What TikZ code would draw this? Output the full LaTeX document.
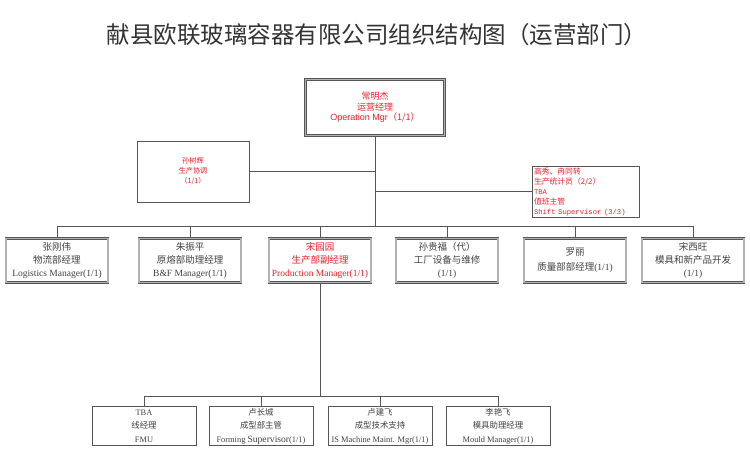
\documentclass[tikz,border=0pt]{standalone}
\usepackage{fontspec}
\setmainfont{Liberation Serif}
\newfontfamily\cjk{Noto Sans CJK SC}
\newfontfamily\latinsans{Liberation Sans}
\newfontfamily\latinmono{Liberation Mono}
\definecolor{orgred}{RGB}{232,32,42}
\definecolor{orgtext}{RGB}{65,65,65}
\definecolor{orgline}{RGB}{85,85,85}
\tikzset{
  deptbox/.style={draw=orgline, line width=0.6pt, double=black!30, double distance=1.1pt,
    minimum width=102pt, minimum height=44pt, inner sep=0pt, align=center,
    text=orgtext, font=\fontsize{9.5}{13}\selectfont},
  unitbox/.style={draw=orgline, line width=0.8pt, minimum width=104pt, minimum height=39pt,
    inner sep=0pt, align=center, text=orgtext, font=\fontsize{8.4}{13.5}\selectfont},
  link/.style={draw=orgline, line width=0.9pt},
}
\begin{document}
\begin{tikzpicture}[x=1pt,y=-1pt]
\useasboundingbox (0,0) rectangle (750,464);
\node[text=black!80, font=\cjk\fontsize{23.5}{25}\selectfont] (title) at (377,35) {献县欧联玻璃容器有限公司组织结构图（运营部门）};
% operation manager and staff
\node[deptbox, minimum width=139pt, minimum height=56pt, text=orgred, font=\fontsize{9}{10.5}\selectfont] (mgr) at (375,107.5)
  {{\cjk 常明杰}\\{\cjk 运营经理}\\{\latinsans Operation Mgr}{\cjk （1/1）}};
\node[unitbox, minimum width=112pt, minimum height=61pt, text=orgred, font=\cjk\fontsize{7.2}{10}\selectfont] (coord) at (193,171.5)
  {孙树辉\\生产协调\\（1/1）};
\node[unitbox, minimum width=107pt, minimum height=51pt, text width=103pt, align=left, text=orgred, font=\fontsize{7.8}{10}\selectfont] (shift) at (585.5,191.5)
  {{\cjk 高秀、冉同转}\\{\cjk 生产统计员（2/2）}\\{\latinmono\fontsize{7.2}{10}\selectfont TBA}\\{\cjk 值班主管}\\{\latinmono\fontsize{7.2}{10}\selectfont Shift Supervisor (3/3)}};
% departments
\node[deptbox] (log) at (57,260.5) {{\cjk 张刚伟}\\{\cjk 物流部经理}\\Logistics Manager(1/1)};
\node[deptbox] (bf) at (190,260.5) {{\cjk 朱振平}\\{\cjk 原熔部助理经理}\\B\&F Manager(1/1)};
\node[deptbox, text=orgred] (prod) at (320,260.5) {{\cjk 宋园园}\\{\cjk 生产部副经理}\\Production Manager(1/1)};
\node[deptbox] (maint) at (447,260.5) {{\cjk 孙贵福（代）}\\{\cjk 工厂设备与维修}\\(1/1)};
\node[deptbox] (qual) at (575,260.5) {{\cjk 罗丽}\\[2pt]{\cjk 质量部部经理}(1/1)};
\node[deptbox] (newprod) at (693,260.5) {{\cjk 宋西旺}\\{\cjk 模具和新产品开发}\\(1/1)};
% production units
\node[unitbox] (fmu) at (144,426) {TBA\\{\cjk 线经理}\\FMU};
\node[unitbox] (form) at (261,426) {{\cjk 卢长城}\\{\cjk 成型部主管}\\Forming {\fontsize{9.6}{13.5}\selectfont Supervisor}(1/1)};
\node[unitbox] (ismach) at (380,426) {{\cjk 卢建飞}\\{\cjk 成型技术支持}\\IS Machine Maint. Mgr(1/1)};
\node[unitbox] (mould) at (498,426) {{\cjk 李艳飞}\\{\cjk 模具助理经理}\\Mould Manager(1/1)};
% connectors
\coordinate (bus) at (375,226);
\draw[link] (mgr.south) -- (bus);
\foreach \n in {log,bf,prod,maint,qual,newprod} \draw[link] (\n.north) |- (bus);
\draw[link] (coord.east) -- (coord.east -| mgr.south);
\draw[link] (shift.west) -- (shift.west -| mgr.south);
\coordinate (lowbus) at (320,396);
\draw[link] (prod.south) -- (lowbus);
\foreach \n in {fmu,form,ismach,mould} \draw[link] (\n.north) |- (lowbus);
\end{tikzpicture}
\end{document}
